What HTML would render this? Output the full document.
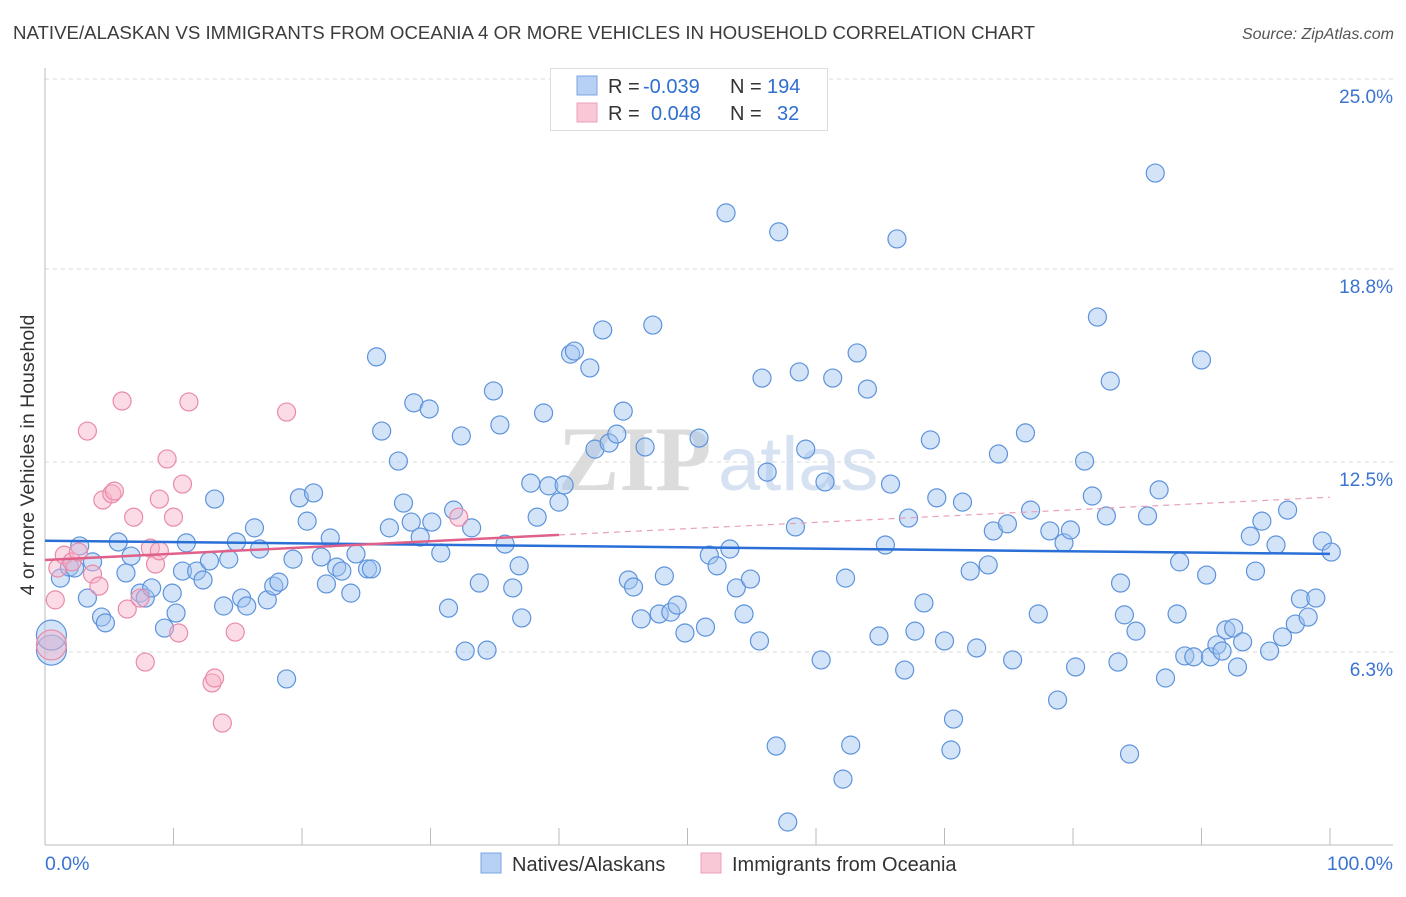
<!DOCTYPE html>
<html><head><meta charset="utf-8"><style>
body{margin:0;background:#fff;font-family:"Liberation Sans",sans-serif;}
</style></head><body>
<svg width="1406" height="892" xmlns="http://www.w3.org/2000/svg">
<text x="13" y="39" font-size="18" fill="#3c3c3c" textLength="1022" lengthAdjust="spacingAndGlyphs">NATIVE/ALASKAN VS IMMIGRANTS FROM OCEANIA 4 OR MORE VEHICLES IN HOUSEHOLD CORRELATION CHART</text>
<text x="1394" y="39" font-size="16" fill="#555" font-style="italic" text-anchor="end">Source: ZipAtlas.com</text>
<text x="0" y="0" transform="translate(34,455) rotate(-90)" font-size="19.5" fill="#333" text-anchor="middle">4 or more Vehicles in Household</text>
<text x="558" y="490" font-size="92" fill="#dcdcdc" font-family="Liberation Serif,serif" font-weight="bold">ZIP</text>
<text x="718" y="490" font-size="76" fill="#d6e2f2">atlas</text>
<g id="grid"></g>
<g id="axes"></g>
<g id="pts"></g>
<g id="lines"></g>
<g>
<rect x="550.5" y="68.5" width="277" height="62" fill="#fff" stroke="#ddd"/>
<rect x="577" y="76" width="20" height="19" fill="#b8d0f4" stroke="#7aa6e4"/>
<rect x="577" y="103" width="20" height="19" fill="#f9c8d6" stroke="#eea0b8"/>
<text x="608" y="93" font-size="20" fill="#333">R = </text><text x="643" y="93" font-size="20" fill="#2f6fd0">-0.039</text>
<text x="730" y="93" font-size="20" fill="#333">N = </text><text x="767" y="93" font-size="20" fill="#2f6fd0">194</text>
<text x="608" y="120" font-size="20" fill="#333">R = </text><text x="651" y="120" font-size="20" fill="#2f6fd0">0.048</text>
<text x="730" y="120" font-size="20" fill="#333">N = </text><text x="777" y="120" font-size="20" fill="#2f6fd0">32</text>
</g>
<g>
<rect x="481" y="853" width="20" height="20" fill="#b8d0f4" stroke="#7aa6e4"/>
<text x="512" y="871" font-size="20" fill="#333">Natives/Alaskans</text>
<rect x="701" y="853" width="20" height="20" fill="#f9c8d6" stroke="#eea0b8"/>
<text x="732" y="871" font-size="20" fill="#333">Immigrants from Oceania</text>
</g>
</svg>
<script>
const yTicks=[25.0,18.8,12.5,6.3];
const yTickLabels=["25.0%","18.8%","12.5%","6.3%"];
const xTicks=[0,10,20,30,40,50,60,70,80,90,100];
const xEndLabels=["0.0%","100.0%"];
const blueX=[0.5,0.5,1.2,1.9,2.3,2.7,3.3,3.7,4.4,4.7,5.7,6.3,6.7,7.4,7.8,8.3,9.3,9.9,10.2,10.7,11.0,11.8,12.3,12.8,13.2,13.9,14.3,14.9,15.3,15.7,16.3,16.7,17.3,17.8,18.2,18.8,19.3,19.8,20.4,20.9,21.5,21.9,22.2,22.7,23.1,23.8,24.2,25.1,25.4,25.8,26.2,26.8,27.5,27.9,28.5,28.7,29.2,29.9,30.1,30.8,31.4,31.8,32.4,32.7,33.2,33.8,34.4,34.9,35.4,35.8,36.4,36.9,37.1,37.8,38.3,38.8,39.2,40.0,40.4,40.9,41.2,42.4,42.8,43.4,43.9,44.5,45.0,45.4,45.8,46.4,46.7,47.3,47.8,48.2,48.7,49.2,49.8,50.9,51.4,51.7,52.3,53.0,53.3,53.8,54.4,54.9,55.6,55.8,56.2,57.1,56.9,57.8,58.4,58.7,59.2,60.4,60.7,61.3,62.1,62.3,62.7,63.2,64.0,64.9,65.4,65.8,66.3,66.9,67.2,67.7,68.4,68.9,69.4,70.0,70.5,70.7,71.4,72.0,72.5,73.4,73.8,74.2,74.9,75.3,76.3,76.7,77.3,78.2,78.8,79.3,79.8,80.2,80.9,81.5,81.9,82.6,82.9,83.5,83.7,84.0,84.4,84.9,85.8,86.4,86.7,87.2,88.1,88.3,88.7,89.4,90.0,90.4,90.7,91.2,91.6,91.9,92.5,92.8,93.2,93.8,94.2,94.7,95.3,95.8,96.3,96.7,97.3,97.7,98.3,98.9,99.4,100.1];
const blueY=[6.36,6.85,8.71,9.07,9.04,9.76,8.06,9.24,7.44,7.25,9.89,8.88,9.43,8.22,8.06,8.39,7.08,8.22,7.57,8.94,9.86,8.94,8.65,9.27,11.29,7.80,9.33,9.89,8.06,7.80,10.35,9.66,8.00,8.45,8.58,5.42,9.33,11.33,10.57,11.49,9.40,8.52,10.02,9.07,8.94,8.22,9.50,9.01,9.01,15.93,13.51,10.35,12.53,11.16,10.54,14.43,10.05,14.23,10.54,9.53,7.73,10.93,13.35,6.33,10.35,8.55,6.36,14.82,13.71,9.82,8.39,9.11,7.41,11.81,10.70,14.10,11.72,11.19,11.75,16.02,16.12,15.57,12.92,16.81,13.12,13.41,14.16,8.65,8.42,7.38,12.99,16.97,7.54,8.78,7.60,7.83,6.92,13.28,7.11,9.46,9.11,20.63,9.66,8.39,7.54,8.68,6.66,15.24,12.17,20.01,3.23,0.75,10.38,15.44,12.92,6.04,11.85,15.24,2.15,8.71,3.26,16.06,14.88,6.82,9.79,11.78,19.78,5.71,10.67,6.98,7.90,13.22,11.33,6.66,3.10,4.11,11.19,8.94,6.43,9.14,10.25,12.76,10.48,6.04,13.45,10.93,7.54,10.25,4.73,9.86,10.28,5.81,12.53,11.39,17.23,10.74,15.14,5.97,8.55,7.51,2.97,6.98,10.74,21.93,11.59,5.45,7.54,9.24,6.17,6.14,15.83,8.81,6.14,6.53,6.33,7.02,7.08,5.81,6.63,10.08,8.94,10.57,6.33,9.79,6.79,10.93,7.21,8.03,7.44,8.06,9.92,9.56];
const blueWeight=[3,3];
const pinkX=[0.5,0.8,1.0,1.5,2.1,2.6,3.3,3.7,4.2,4.5,5.2,5.4,6.0,6.4,6.9,7.4,7.8,8.2,8.6,8.9,8.9,9.5,10.0,10.4,10.7,11.2,13.0,13.2,13.8,14.8,18.8,32.2];
const pinkY=[6.53,8.00,9.04,9.46,9.24,9.56,13.51,8.84,8.45,11.26,11.46,11.55,14.49,7.70,10.70,8.06,5.97,9.69,9.17,11.29,9.60,12.60,10.70,6.92,11.78,14.46,5.29,5.45,3.98,6.95,14.13,10.70];
const pinkWeight=[3];
const blueTrend=[9.93,-0.0043];
const pinkTrend=[9.30,0.0205];
const pinkSolidEnd=40;

const NS="http://www.w3.org/2000/svg";
const X0=45,X1=1330,Y0=845,YT=79;
const sx=v=>X0+(X1-X0)*v/100;
const sy=v=>Y0-(Y0-YT)*v/25;
function mk(tag,attrs,parent){const e=document.createElementNS(NS,tag);for(const k in attrs)e.setAttribute(k,attrs[k]);parent.appendChild(e);return e;}
const grid=document.getElementById('grid'),axes=document.getElementById('axes'),pts=document.getElementById('pts'),lines=document.getElementById('lines');
yTicks.forEach((t,i)=>{
  const l=mk('line',{x1:X0,x2:1393,y1:sy(t),y2:sy(t),stroke:'#d8d8d8','stroke-dasharray':'4,4'},grid);
  
  
  const tx=mk('text',{x:1393,y:sy(t)+24,'font-size':19,fill:'#3a73d0','text-anchor':'end'},grid);
  tx.textContent=yTickLabels[i];
  
  
});
const ax=mk('line',{x1:X0,x2:X0,y1:68,y2:Y0,stroke:'#bbb'},axes);


const bx=mk('line',{x1:X0,x2:1393,y1:Y0,y2:Y0,stroke:'#bbb'},axes);


xTicks.forEach(t=>{
  const l=mk('line',{x1:sx(t),x2:sx(t),y1:Y0-17,y2:Y0,stroke:'#bbb'},axes);
  
  
});
const xl0=mk('text',{x:X0,y:870,'font-size':19.5,fill:'#3a73d0'},axes);xl0.textContent=xEndLabels[0];


const xl1=mk('text',{x:1393,y:870,'font-size':19.5,fill:'#3a73d0','text-anchor':'end'},axes);xl1.textContent=xEndLabels[1];


function dots(xs,ys,w,fill,stroke,name){
  xs.forEach((x,i)=>{
    const r=(w[i]||1)>1?15:9;
    const c=mk('circle',{cx:sx(x),cy:sy(ys[i]),r:r,fill:fill,stroke:stroke,'stroke-width':1.2},pts);
    
    
  });
}
dots(blueX,blueY,blueWeight,'rgba(160,195,240,0.45)','#5d93dc','natives-point');
dots(pinkX,pinkY,pinkWeight,'rgba(246,178,200,0.45)','#e98aa8','oceania-point');
const bl=mk('line',{x1:sx(0),y1:sy(blueTrend[0]),x2:sx(100),y2:sy(blueTrend[0]+blueTrend[1]*100),stroke:'#2a6fd6','stroke-width':2.5},lines);


const pl=mk('line',{x1:sx(0),y1:sy(pinkTrend[0]),x2:sx(pinkSolidEnd),y2:sy(pinkTrend[0]+pinkTrend[1]*pinkSolidEnd),stroke:'#e0608a','stroke-width':2.5},lines);


const pd=mk('line',{x1:sx(pinkSolidEnd),y1:sy(pinkTrend[0]+pinkTrend[1]*pinkSolidEnd),x2:sx(100),y2:sy(pinkTrend[0]+pinkTrend[1]*100),stroke:'#e8a0b8','stroke-width':1.2,'stroke-dasharray':'6,5'},lines);


</script>
</body></html>
